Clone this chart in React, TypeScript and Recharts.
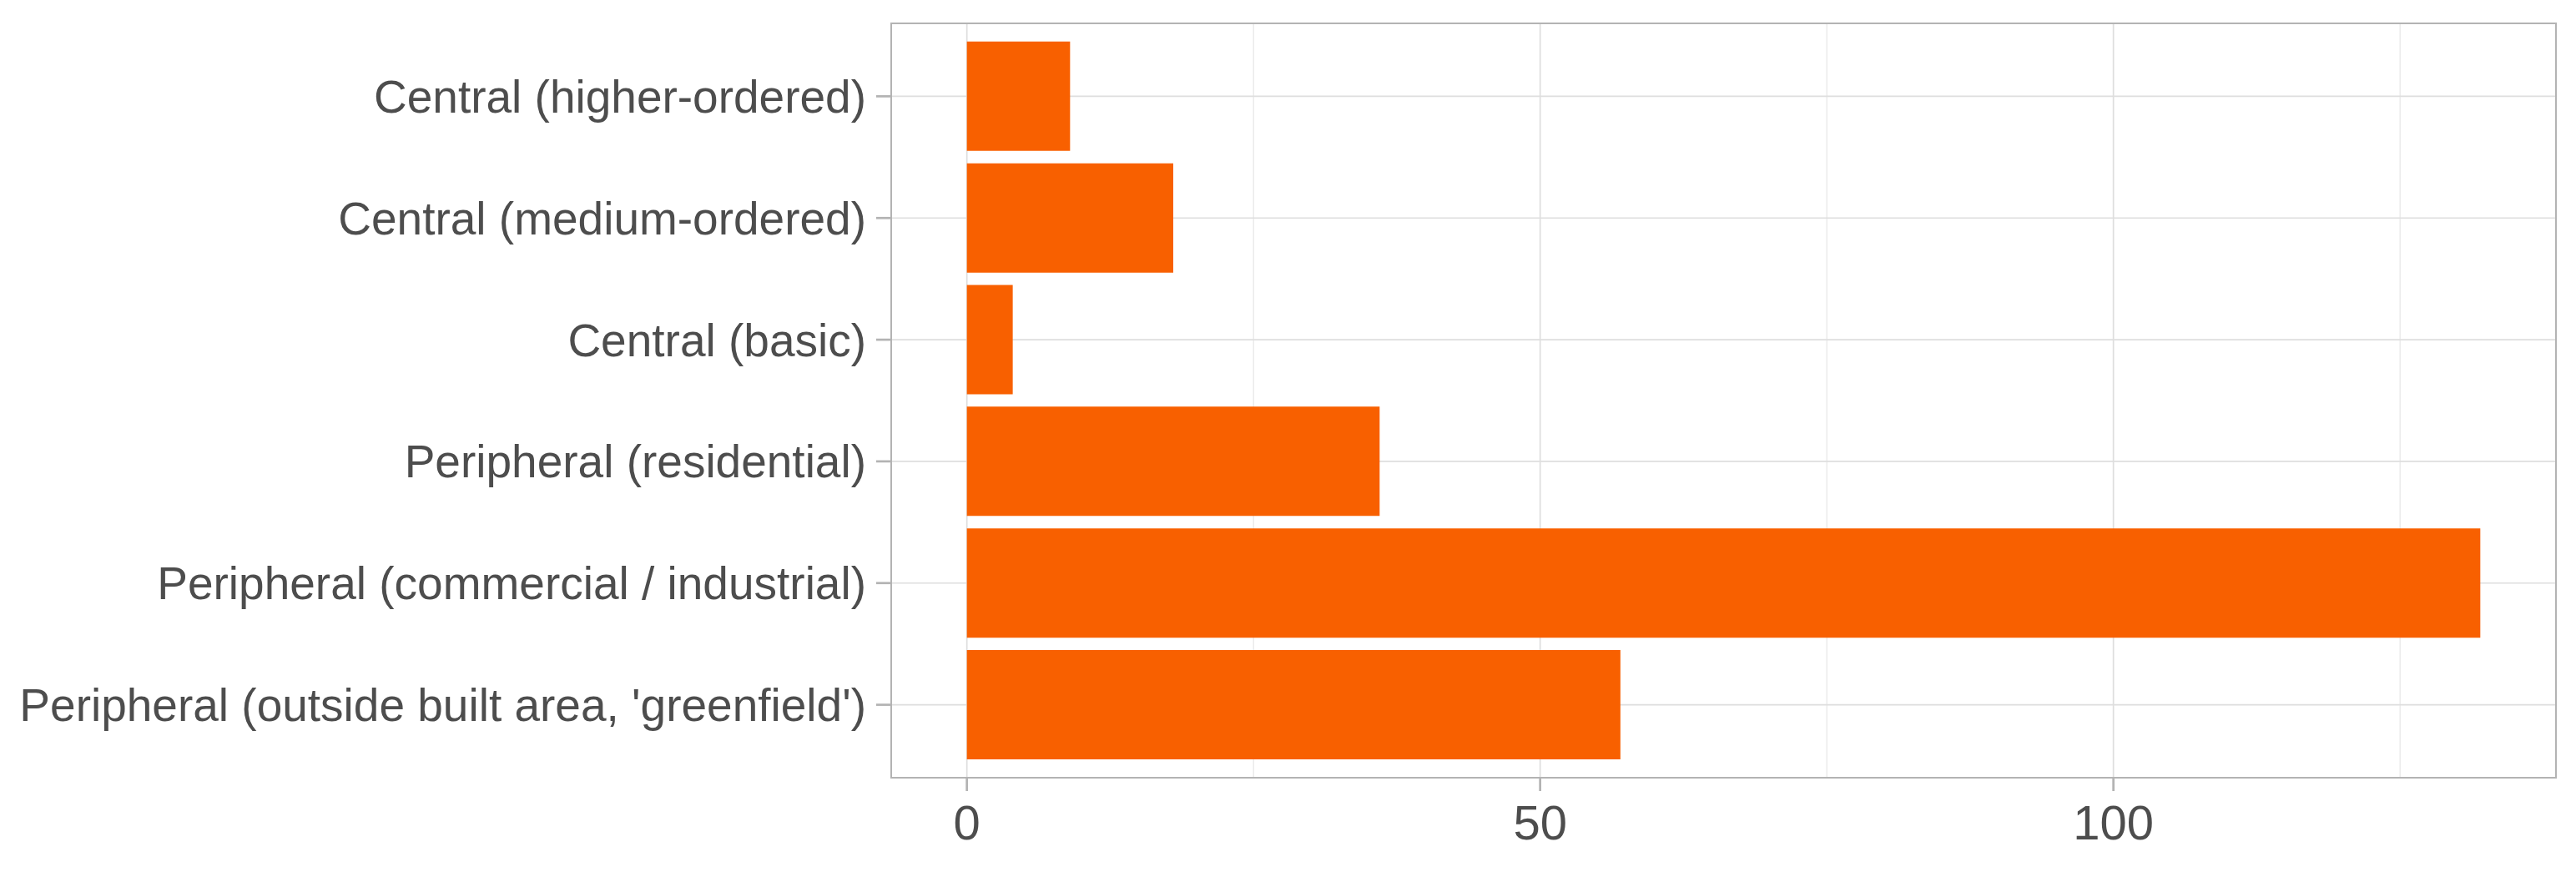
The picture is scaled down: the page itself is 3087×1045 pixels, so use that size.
import { BarChart, Bar, XAxis, YAxis, CartesianGrid } from 'recharts'

const categories = [
  'Central (higher-ordered)',
  'Central (medium-ordered)',
  'Central (basic)',
  'Peripheral (residential)',
  'Peripheral (commercial / industrial)',
  "Peripheral (outside built area, 'greenfield')",
]
const counts = [9, 18, 4, 36, 132, 57]
const majorTicks = [0, 50, 100]
const minorTicks = [25, 75, 125]
const xDomain: [number, number] = [-6.6, 138.6]

const data = categories.map((category, i) => ({ category, count: counts[i] }))

const W = 3087
const H = 1045
const TEXT = '#4D4D4D'
const LINE = '#B3B3B3'
const GRID = '#DEDEDE'
const FONT = 'Liberation Sans, Arial, sans-serif'

// minor grid positions from the x domain and the plot offset
const minorLines = ({ offset }: any) =>
  minorTicks.map((t) => offset.left + ((t - xDomain[0]) / (xDomain[1] - xDomain[0])) * offset.width)

export default function App() {
  return (
    <div style={{ position: 'absolute', left: 0, top: 0, width: W, height: H, background: '#fff' }}>
      <BarChart
        width={W}
        height={H}
        data={data}
        layout="vertical"
        margin={{ top: 28, right: 24, bottom: 0, left: 0 }}
        barCategoryGap="5%"
      >
        <CartesianGrid horizontal={false} stroke={GRID} strokeWidth={0.9} verticalCoordinatesGenerator={minorLines} />
        <CartesianGrid stroke={GRID} strokeWidth={1.7} />
        <XAxis
          type="number"
          domain={xDomain}
          ticks={majorTicks}
          allowDataOverflow
          height={113}
          axisLine={false}
          tickSize={16}
          tickMargin={17}
          tickLine={{ stroke: LINE, strokeWidth: 2.7 }}
          tick={{ fontSize: 58, fill: TEXT, fontFamily: FONT }}
        />
        <YAxis
          type="category"
          dataKey="category"
          width={1068}
          padding={{ top: 14.5, bottom: 14.5 }}
          axisLine={false}
          tickSize={18}
          tickMargin={12}
          tickLine={{ stroke: LINE, strokeWidth: 2.7 }}
          tick={{ fontSize: 55, fill: TEXT, fontFamily: FONT }}
          interval={0}
        />
        <Bar dataKey="count" fill="#F86000" isAnimationActive={false} />
      </BarChart>
      <div
        style={{
          position: 'absolute',
          left: 1067,
          top: 27,
          width: W - 24 - 1066,
          height: H - 28 - 113 + 2,
          border: `2.7px solid ${LINE}`,
          boxSizing: 'border-box',
          pointerEvents: 'none',
        }}
      />
    </div>
  )
}
